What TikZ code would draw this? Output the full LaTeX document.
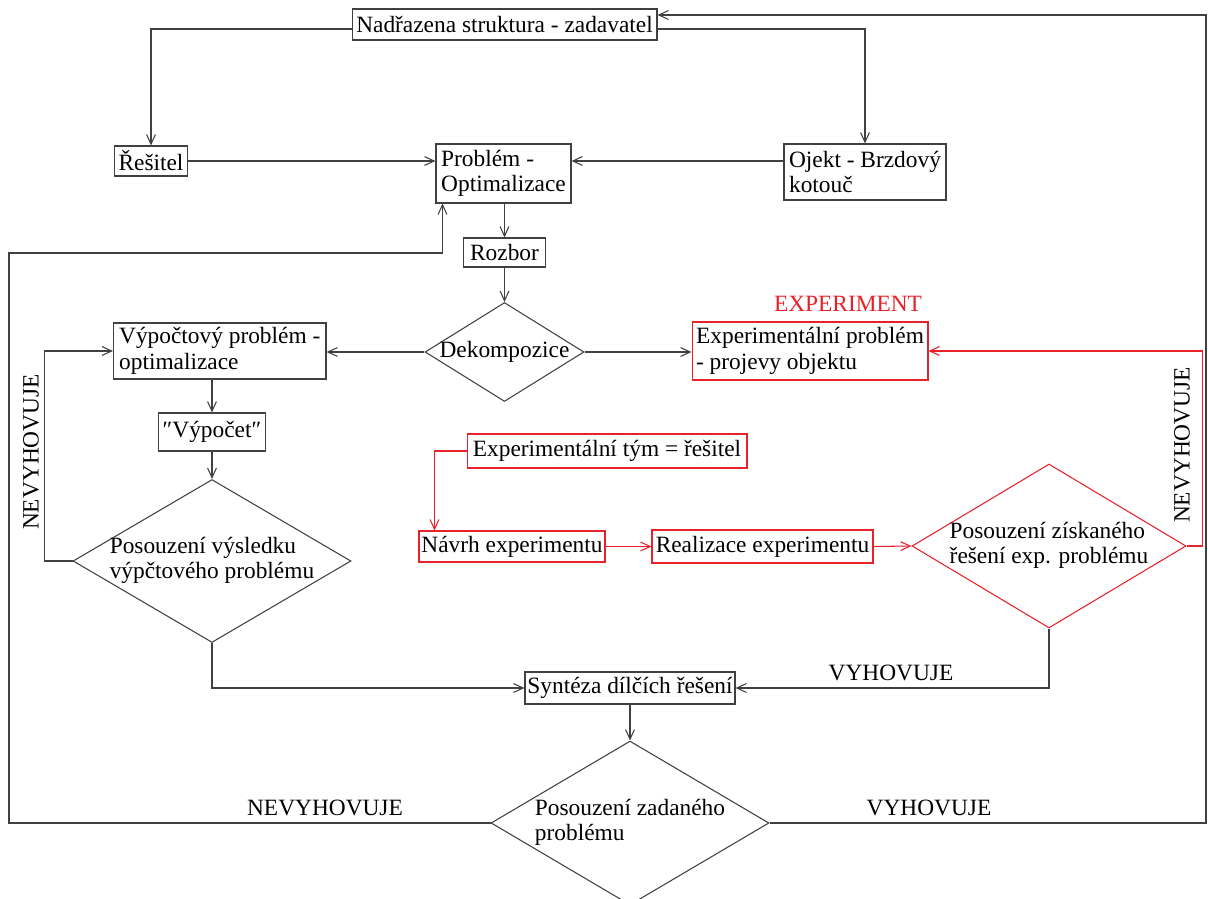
\documentclass[tikz,border=0pt]{standalone}
\usepackage{fontspec}
\setmainfont{Liberation Serif}
\usetikzlibrary{shapes.geometric,arrows.meta}
\definecolor{expred}{RGB}{232,32,40}
\definecolor{linegray}{RGB}{64,64,64}
\newcommand{\dtext}[1]{\makebox[0pt]{\begin{tabular}{@{}l@{}}#1\end{tabular}}}

\begin{document}
\begin{tikzpicture}[x=0.02cm, y=-0.02cm, line width=0.6pt,
  every node/.style={font=\fontsize{13.3}{14.6}\selectfont},
  box/.style={draw=linegray, rectangle, inner sep=0pt, align=left},
  redbox/.style={box, draw=expred},
  dia/.style={draw=linegray, diamond, inner sep=0pt},
  arr/.style={draw=linegray, -{Straight Barb[length=5.5pt,width=5pt]}},
  redarr/.style={arr, draw=expred}]
	\clip (0,0) rectangle (1208,899);
	\node[box, minimum width=6.1cm, minimum height=0.62cm] (zad) at (504.5,24.5) {Nadřazena struktura - zadavatel};
	\node[box, minimum width=1.45cm, minimum height=0.6cm] (resitel) at (151,161) {Řešitel};
	\node[box, minimum width=2.7cm, minimum height=1.18cm] (problem) at (503.5,173.5) {Problém -\\Optimalizace};
	\node[box, minimum width=3.24cm, minimum height=1.12cm] (objekt) at (865,172) {Ojekt - Brzdový\\kotouč};
	\node[box, minimum width=1.65cm, minimum height=0.58cm] (rozbor) at (504.5,252.5) {Rozbor};
	\node[dia, minimum width=3.18cm, minimum height=1.98cm] (dek) at (504.5,352) {\dtext{Dekompozice}};
	\node[box, minimum width=4.25cm, minimum height=1.12cm] (vyp) at (219.75,351) {Výpočtový problém -\\optimalizace};
	\node[box, minimum width=2.14cm, minimum height=0.76cm] (vypocet) at (212,432) {″Výpočet″};
	\node[dia, minimum width=5.56cm, minimum height=3.26cm] (posv) at (212,561) {\dtext{Posouzení výsledku\\výpčtového problému}};
	\node[redbox, minimum width=4.72cm, minimum height=1.16cm] (exp) at (810,351) {Experimentální problém\\- projevy objektu};
	\node[text=expred] (explabel) at (848,304) {EXPERIMENT};
	\node[redbox, minimum width=5.6cm, minimum height=0.68cm] (tym) at (607,451) {Experimentální tým = řešitel};
	\node[redbox, minimum width=3.72cm, minimum height=0.62cm] (navrh) at (512,546.5) {Návrh experimentu};
	\node[redbox, minimum width=4.42cm, minimum height=0.66cm] (real) at (762.5,546.5) {Realizace experimentu};
	\node[dia, draw=expred, minimum width=5.48cm, minimum height=3.28cm] (posz) at (1049,546) {\dtext{Posouzení získaného\\řešení exp. problému}};
	\node[box, minimum width=4.2cm, minimum height=0.64cm] (synt) at (630,688) {Syntéza dílčích řešení};
	\node[dia, minimum width=5.56cm, minimum height=3.28cm] (posc) at (630,823) {\dtext{Posouzení zadaného\\problému}};
	\node[rotate=90] (nevl) at (31,452) {NEVYHOVUJE};
	\node[rotate=90] (nevr) at (1182,445) {NEVYHOVUJE};
	\node (vyhr) at (891,673) {VYHOVUJE};
	\node (nevb) at (325,808) {NEVYHOVUJE};
	\node (vyhb) at (929,808) {VYHOVUJE};
	\coordinate (rtop) at (1206,15);
	\coordinate (ltop) at (9,253);
	\draw[arr] (posc.east) -| (rtop) -- (rtop -| zad.east);
	\draw[arr] ([yshift=-0.09cm]zad.east) -| (objekt.north);
	\draw[arr] ([yshift=-0.09cm]zad.west) -| (resitel.north);
	\draw[arr] (resitel.east) -- (resitel.east -| problem.west);
	\draw[arr] (objekt.west |- resitel.east) -- (problem.east |- resitel.east);
	\draw[arr] (rozbor.north |- problem.south) -- (rozbor.north);
	\draw[arr] (rozbor.south) -- (dek.north);
	\draw[arr] (dek.west) -- (dek.west -| vyp.east);
	\draw[arr] (dek.east) -- (dek.east -| exp.west);
	\draw[arr] (vypocet.north |- vyp.south) -- (vypocet.north);
	\draw[arr] (vypocet.south) -- (posv.north);
	\draw[arr] (posv.west) -- ++(-28,0) |- (vyp.west);
	\draw[arr] (posv.south) |- (synt.west);
	\draw[arr] (posz.south) |- (synt.east);
	\draw[arr] (synt.south) -- (posc.north);
	\draw[arr] (posc.west) -| (ltop) -| ([xshift=0.14cm]problem.south west);
	\draw[redarr] (tym.west) -| ([xshift=0.32cm]navrh.north west);
	\draw[redarr] (navrh.east) -- (real.west);
	\draw[redarr] (real.east) -- (posz.west);
	\draw[redarr] (posz.east) -- ++(16,0) |- (exp.east);
\end{tikzpicture}
\end{document}
